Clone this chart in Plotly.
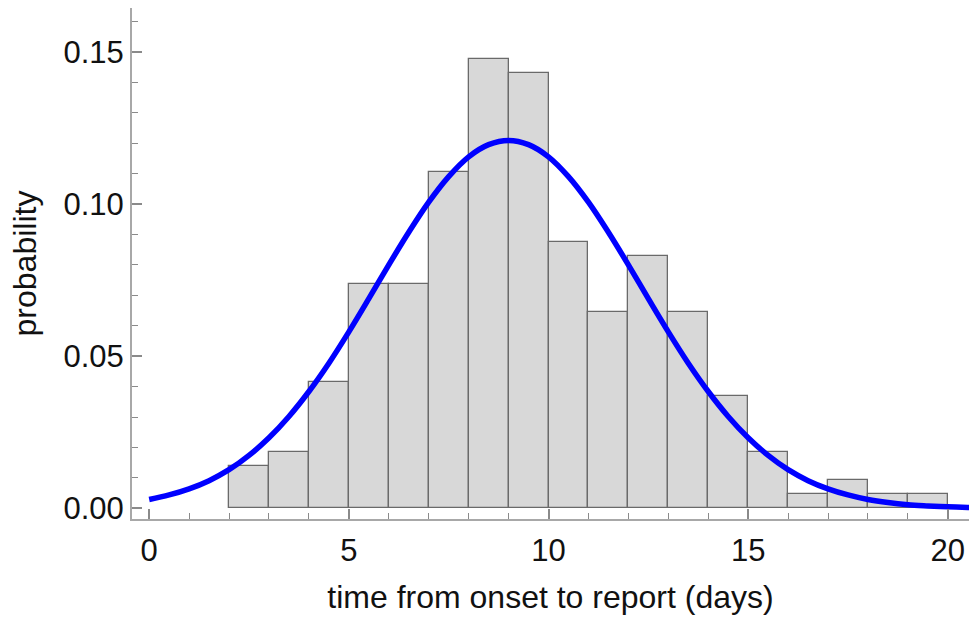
import plotly.graph_objects as go

# Histogram bins (left edges, days) and probabilities
bin_left = [2, 3, 4, 5, 6, 7, 8, 9, 10, 11, 12, 13, 14, 15, 16, 17, 18, 19]
bin_prob = [0.0138, 0.0184, 0.0415, 0.0737, 0.0737, 0.1106, 0.1475, 0.1429,
            0.0876, 0.0645, 0.0829, 0.0645, 0.0369, 0.0184, 0.0046, 0.0092,
            0.0046, 0.0046]

# Fitted curve
curve_x = [0, 0.5, 1, 1.5, 2, 2.5, 3, 3.5, 4, 4.5, 5, 5.5, 6, 6.5, 7, 7.5, 8, 8.5,
           9, 9.5, 10, 10.5, 11, 11.5, 12, 12.5, 13, 13.5, 14, 14.5, 15, 15.5,
           16, 16.5, 17, 17.5, 18, 18.5, 19, 19.5, 20, 20.5, 21]
curve_y = [0.0029, 0.0044, 0.0064, 0.0091, 0.0127, 0.0174, 0.0232, 0.0302,
           0.0384, 0.0477, 0.0580, 0.0689, 0.0800, 0.0907, 0.1006, 0.1090,
           0.1155, 0.1195, 0.1209, 0.1195, 0.1155, 0.1090, 0.1006, 0.0907,
           0.0800, 0.0689, 0.0580, 0.0477, 0.0384, 0.0302, 0.0232, 0.0174,
           0.0127, 0.0091, 0.0064, 0.0044, 0.0029, 0.0019, 0.0012, 0.0008,
           0.0005, 0.0003, 0.0002]

x_ticks = [0, 5, 10, 15, 20]
y_ticks = [0.00, 0.05, 0.10, 0.15]
y_tick_text = ["0.00", "0.05", "0.10", "0.15"]

FONT = "Liberation Sans, Arial, sans-serif"

fig = go.Figure()
fig.add_trace(go.Bar(
    x=bin_left, y=bin_prob, width=1, offset=0,
    marker=dict(color="#d8d8d8", line=dict(color="#6a6a6a", width=1.3)),
    showlegend=False, hoverinfo="skip",
))
fig.add_trace(go.Scatter(
    x=curve_x, y=curve_y, mode="lines",
    line=dict(color="#0000ff", width=5.5, shape="spline"),
    showlegend=False, hoverinfo="skip", cliponaxis=True,
))

axis_common = dict(
    showline=True, linecolor="#a8a8a8", linewidth=2,
    ticks="inside", ticklen=10, tickwidth=1.5, tickcolor="#8a8a8a",
    showgrid=False, zeroline=False,
    tickfont=dict(family=FONT, size=31, color="#111111"),
    title_font=dict(family=FONT, size=32, color="#111111"),
)

fig.update_xaxes(
    range=[-0.43, 20.53], tickvals=x_ticks,
    minor=dict(dtick=1, tick0=0, ticks="inside", ticklen=6,
               tickwidth=1.2, tickcolor="#8a8a8a"),
    title_text="time from onset to report (days)", title_standoff=18,
    ticklabelstandoff=3,
    **axis_common,
)
fig.update_yaxes(
    range=[-0.0035, 0.1644], tickvals=y_ticks, ticktext=y_tick_text,
    minor=dict(dtick=0.01, tick0=0, ticks="inside", ticklen=6,
               tickwidth=1.2, tickcolor="#8a8a8a"),
    title_text="probability", title_standoff=17,
    **axis_common,
)

fig.update_layout(
    width=969, height=618,
    margin=dict(l=132, r=0, t=8, b=99),
    plot_bgcolor="white", paper_bgcolor="white",
    bargap=0,
)

fig.write_html("out.html")
